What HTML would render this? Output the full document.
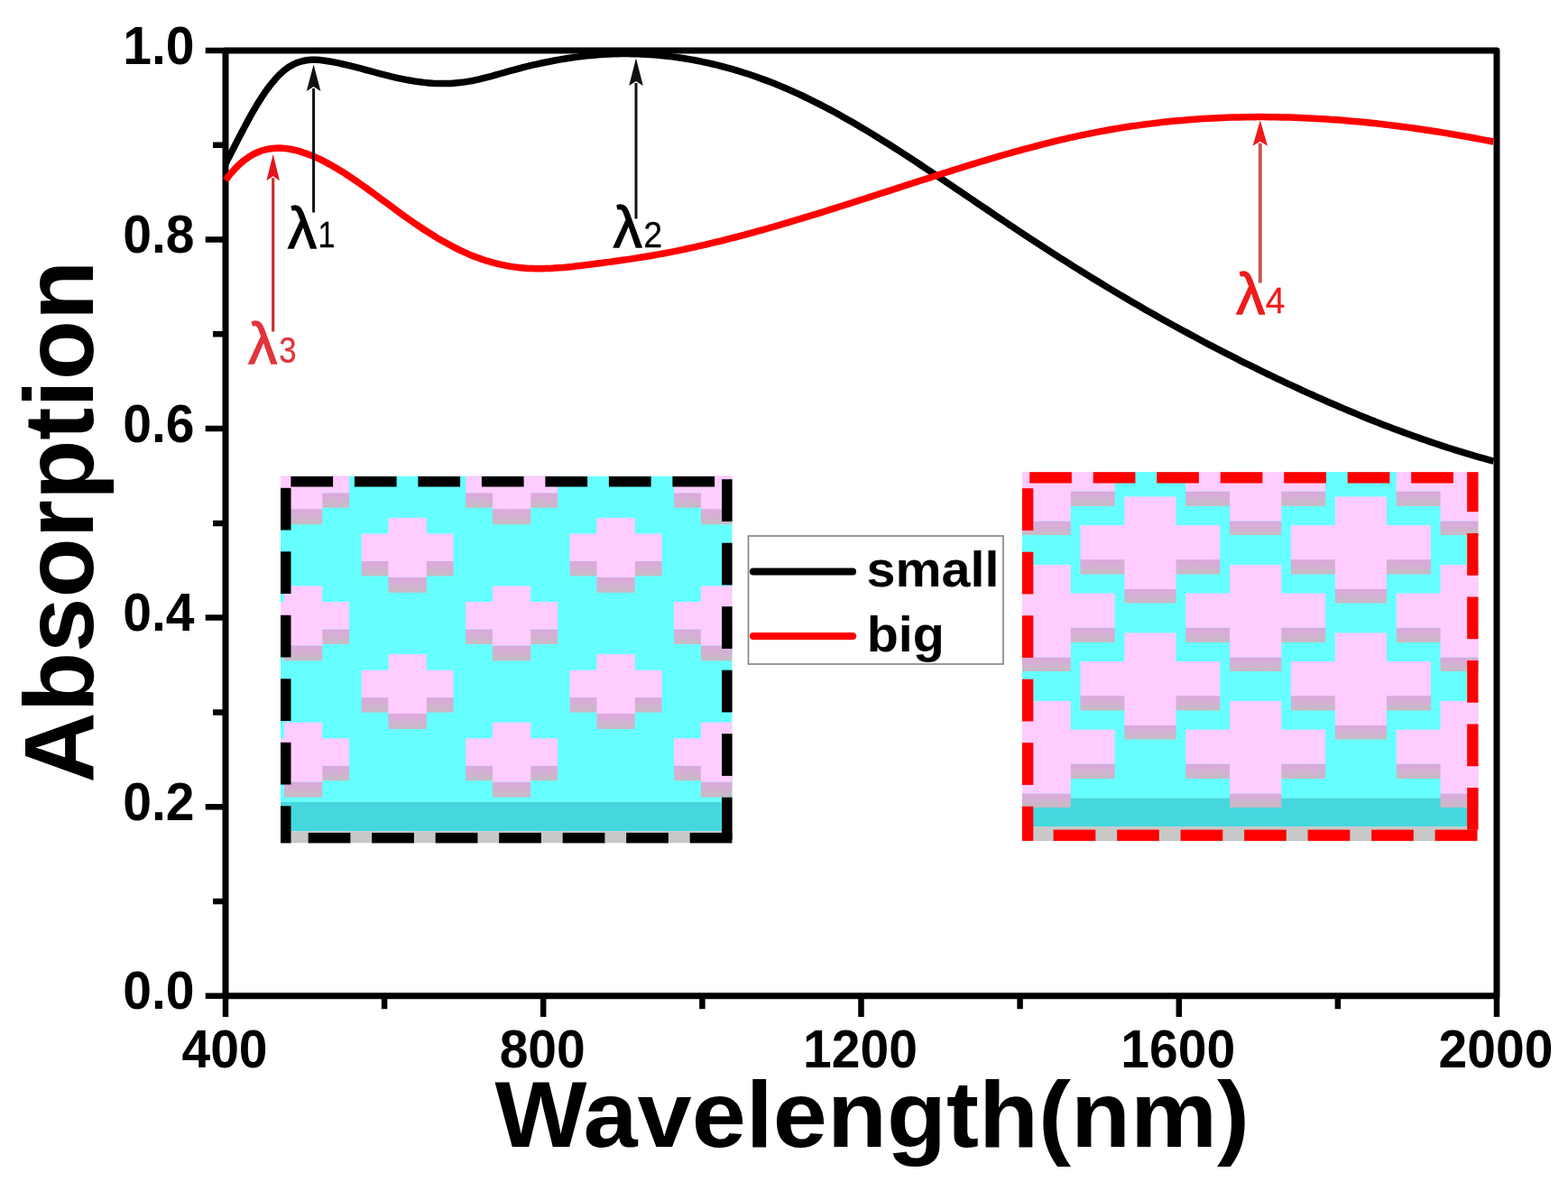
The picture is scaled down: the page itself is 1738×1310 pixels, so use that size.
<!DOCTYPE html>
<html><head><meta charset="utf-8"><title>Absorption vs Wavelength</title>
<style>html,body{margin:0;padding:0;background:#fff;}body{width:1738px;height:1310px;overflow:hidden;}svg{display:block;}text{font-family:"Liberation Sans", Arial, sans-serif;}</style>
</head><body>
<svg width="1738" height="1310" viewBox="0 0 1738 1310">
<rect width="1738" height="1310" fill="#fff"/>
<defs>
<linearGradient id="sh" x1="0" y1="0" x2="0" y2="1"><stop offset="0" stop-color="#dea6dc"/><stop offset="0.35" stop-color="#d6aed6"/><stop offset="1" stop-color="#c6bcc4"/></linearGradient>
<clipPath id="c1"><rect x="311" y="527.5" width="500.5" height="407"/></clipPath>
<clipPath id="c2"><rect x="1133" y="523" width="505.5" height="409"/></clipPath>
</defs>
<g clip-path="url(#c1)">
<rect x="311.0" y="527.5" width="500.5" height="361.3" fill="#66ffff"/>
<rect x="311.0" y="888.8" width="500.5" height="32.4" fill="#46d7de"/>
<rect x="311.0" y="921.2" width="500.5" height="13.3" fill="#c8c8c8"/>
<rect x="54.1" y="546.3" width="102.0" height="16.5" fill="url(#sh)"/>
<rect x="83.9" y="564.2" width="42.4" height="17.0" fill="url(#sh)"/>
<rect x="54.1" y="515.9" width="102.0" height="30.4" fill="#ffccff"/>
<rect x="83.9" y="498.2" width="42.4" height="66.0" fill="#ffccff"/>
<rect x="285.1" y="546.3" width="102.0" height="16.5" fill="url(#sh)"/>
<rect x="314.9" y="564.2" width="42.4" height="17.0" fill="url(#sh)"/>
<rect x="285.1" y="515.9" width="102.0" height="30.4" fill="#ffccff"/>
<rect x="314.9" y="498.2" width="42.4" height="66.0" fill="#ffccff"/>
<rect x="516.1" y="546.3" width="102.0" height="16.5" fill="url(#sh)"/>
<rect x="545.9" y="564.2" width="42.4" height="17.0" fill="url(#sh)"/>
<rect x="516.1" y="515.9" width="102.0" height="30.4" fill="#ffccff"/>
<rect x="545.9" y="498.2" width="42.4" height="66.0" fill="#ffccff"/>
<rect x="747.1" y="546.3" width="102.0" height="16.5" fill="url(#sh)"/>
<rect x="776.9" y="564.2" width="42.4" height="17.0" fill="url(#sh)"/>
<rect x="747.1" y="515.9" width="102.0" height="30.4" fill="#ffccff"/>
<rect x="776.9" y="498.2" width="42.4" height="66.0" fill="#ffccff"/>
<rect x="978.1" y="546.3" width="102.0" height="16.5" fill="url(#sh)"/>
<rect x="1007.9" y="564.2" width="42.4" height="17.0" fill="url(#sh)"/>
<rect x="978.1" y="515.9" width="102.0" height="30.4" fill="#ffccff"/>
<rect x="1007.9" y="498.2" width="42.4" height="66.0" fill="#ffccff"/>
<rect x="169.6" y="621.9" width="102.0" height="16.5" fill="url(#sh)"/>
<rect x="199.4" y="639.8" width="42.4" height="17.0" fill="url(#sh)"/>
<rect x="169.6" y="591.5" width="102.0" height="30.4" fill="#ffccff"/>
<rect x="199.4" y="573.8" width="42.4" height="66.0" fill="#ffccff"/>
<rect x="400.6" y="621.9" width="102.0" height="16.5" fill="url(#sh)"/>
<rect x="430.4" y="639.8" width="42.4" height="17.0" fill="url(#sh)"/>
<rect x="400.6" y="591.5" width="102.0" height="30.4" fill="#ffccff"/>
<rect x="430.4" y="573.8" width="42.4" height="66.0" fill="#ffccff"/>
<rect x="631.6" y="621.9" width="102.0" height="16.5" fill="url(#sh)"/>
<rect x="661.4" y="639.8" width="42.4" height="17.0" fill="url(#sh)"/>
<rect x="631.6" y="591.5" width="102.0" height="30.4" fill="#ffccff"/>
<rect x="661.4" y="573.8" width="42.4" height="66.0" fill="#ffccff"/>
<rect x="862.6" y="621.9" width="102.0" height="16.5" fill="url(#sh)"/>
<rect x="892.4" y="639.8" width="42.4" height="17.0" fill="url(#sh)"/>
<rect x="862.6" y="591.5" width="102.0" height="30.4" fill="#ffccff"/>
<rect x="892.4" y="573.8" width="42.4" height="66.0" fill="#ffccff"/>
<rect x="1093.6" y="621.9" width="102.0" height="16.5" fill="url(#sh)"/>
<rect x="1123.4" y="639.8" width="42.4" height="17.0" fill="url(#sh)"/>
<rect x="1093.6" y="591.5" width="102.0" height="30.4" fill="#ffccff"/>
<rect x="1123.4" y="573.8" width="42.4" height="66.0" fill="#ffccff"/>
<rect x="54.1" y="697.5" width="102.0" height="16.5" fill="url(#sh)"/>
<rect x="83.9" y="715.4" width="42.4" height="17.0" fill="url(#sh)"/>
<rect x="54.1" y="667.1" width="102.0" height="30.4" fill="#ffccff"/>
<rect x="83.9" y="649.4" width="42.4" height="66.0" fill="#ffccff"/>
<rect x="285.1" y="697.5" width="102.0" height="16.5" fill="url(#sh)"/>
<rect x="314.9" y="715.4" width="42.4" height="17.0" fill="url(#sh)"/>
<rect x="285.1" y="667.1" width="102.0" height="30.4" fill="#ffccff"/>
<rect x="314.9" y="649.4" width="42.4" height="66.0" fill="#ffccff"/>
<rect x="516.1" y="697.5" width="102.0" height="16.5" fill="url(#sh)"/>
<rect x="545.9" y="715.4" width="42.4" height="17.0" fill="url(#sh)"/>
<rect x="516.1" y="667.1" width="102.0" height="30.4" fill="#ffccff"/>
<rect x="545.9" y="649.4" width="42.4" height="66.0" fill="#ffccff"/>
<rect x="747.1" y="697.5" width="102.0" height="16.5" fill="url(#sh)"/>
<rect x="776.9" y="715.4" width="42.4" height="17.0" fill="url(#sh)"/>
<rect x="747.1" y="667.1" width="102.0" height="30.4" fill="#ffccff"/>
<rect x="776.9" y="649.4" width="42.4" height="66.0" fill="#ffccff"/>
<rect x="978.1" y="697.5" width="102.0" height="16.5" fill="url(#sh)"/>
<rect x="1007.9" y="715.4" width="42.4" height="17.0" fill="url(#sh)"/>
<rect x="978.1" y="667.1" width="102.0" height="30.4" fill="#ffccff"/>
<rect x="1007.9" y="649.4" width="42.4" height="66.0" fill="#ffccff"/>
<rect x="169.6" y="773.1" width="102.0" height="16.5" fill="url(#sh)"/>
<rect x="199.4" y="791.0" width="42.4" height="17.0" fill="url(#sh)"/>
<rect x="169.6" y="742.7" width="102.0" height="30.4" fill="#ffccff"/>
<rect x="199.4" y="725.0" width="42.4" height="66.0" fill="#ffccff"/>
<rect x="400.6" y="773.1" width="102.0" height="16.5" fill="url(#sh)"/>
<rect x="430.4" y="791.0" width="42.4" height="17.0" fill="url(#sh)"/>
<rect x="400.6" y="742.7" width="102.0" height="30.4" fill="#ffccff"/>
<rect x="430.4" y="725.0" width="42.4" height="66.0" fill="#ffccff"/>
<rect x="631.6" y="773.1" width="102.0" height="16.5" fill="url(#sh)"/>
<rect x="661.4" y="791.0" width="42.4" height="17.0" fill="url(#sh)"/>
<rect x="631.6" y="742.7" width="102.0" height="30.4" fill="#ffccff"/>
<rect x="661.4" y="725.0" width="42.4" height="66.0" fill="#ffccff"/>
<rect x="862.6" y="773.1" width="102.0" height="16.5" fill="url(#sh)"/>
<rect x="892.4" y="791.0" width="42.4" height="17.0" fill="url(#sh)"/>
<rect x="862.6" y="742.7" width="102.0" height="30.4" fill="#ffccff"/>
<rect x="892.4" y="725.0" width="42.4" height="66.0" fill="#ffccff"/>
<rect x="1093.6" y="773.1" width="102.0" height="16.5" fill="url(#sh)"/>
<rect x="1123.4" y="791.0" width="42.4" height="17.0" fill="url(#sh)"/>
<rect x="1093.6" y="742.7" width="102.0" height="30.4" fill="#ffccff"/>
<rect x="1123.4" y="725.0" width="42.4" height="66.0" fill="#ffccff"/>
<rect x="54.1" y="848.7" width="102.0" height="16.5" fill="url(#sh)"/>
<rect x="83.9" y="866.6" width="42.4" height="17.0" fill="url(#sh)"/>
<rect x="54.1" y="818.3" width="102.0" height="30.4" fill="#ffccff"/>
<rect x="83.9" y="800.6" width="42.4" height="66.0" fill="#ffccff"/>
<rect x="285.1" y="848.7" width="102.0" height="16.5" fill="url(#sh)"/>
<rect x="314.9" y="866.6" width="42.4" height="17.0" fill="url(#sh)"/>
<rect x="285.1" y="818.3" width="102.0" height="30.4" fill="#ffccff"/>
<rect x="314.9" y="800.6" width="42.4" height="66.0" fill="#ffccff"/>
<rect x="516.1" y="848.7" width="102.0" height="16.5" fill="url(#sh)"/>
<rect x="545.9" y="866.6" width="42.4" height="17.0" fill="url(#sh)"/>
<rect x="516.1" y="818.3" width="102.0" height="30.4" fill="#ffccff"/>
<rect x="545.9" y="800.6" width="42.4" height="66.0" fill="#ffccff"/>
<rect x="747.1" y="848.7" width="102.0" height="16.5" fill="url(#sh)"/>
<rect x="776.9" y="866.6" width="42.4" height="17.0" fill="url(#sh)"/>
<rect x="747.1" y="818.3" width="102.0" height="30.4" fill="#ffccff"/>
<rect x="776.9" y="800.6" width="42.4" height="66.0" fill="#ffccff"/>
<rect x="978.1" y="848.7" width="102.0" height="16.5" fill="url(#sh)"/>
<rect x="1007.9" y="866.6" width="42.4" height="17.0" fill="url(#sh)"/>
<rect x="978.1" y="818.3" width="102.0" height="30.4" fill="#ffccff"/>
<rect x="1007.9" y="800.6" width="42.4" height="66.0" fill="#ffccff"/>
</g>
<rect x="322.4" y="528.0" width="46.7" height="11.5" fill="#000"/>
<rect x="392.9" y="528.0" width="46.7" height="11.5" fill="#000"/>
<rect x="463.4" y="528.0" width="46.7" height="11.5" fill="#000"/>
<rect x="533.9" y="528.0" width="46.7" height="11.5" fill="#000"/>
<rect x="604.4" y="528.0" width="46.7" height="11.5" fill="#000"/>
<rect x="674.9" y="528.0" width="46.7" height="11.5" fill="#000"/>
<rect x="745.4" y="528.0" width="46.7" height="11.5" fill="#000"/>
<rect x="800.1" y="531.2" width="11.5" height="46.7" fill="#000"/>
<rect x="800.1" y="601.7" width="11.5" height="46.7" fill="#000"/>
<rect x="800.1" y="672.2" width="11.5" height="46.7" fill="#000"/>
<rect x="800.1" y="742.7" width="11.5" height="46.7" fill="#000"/>
<rect x="800.1" y="813.2" width="11.5" height="46.7" fill="#000"/>
<rect x="800.1" y="883.7" width="11.5" height="46.7" fill="#000"/>
<rect x="341.7" y="922.9" width="46.7" height="11.5" fill="#000"/>
<rect x="412.2" y="922.9" width="46.7" height="11.5" fill="#000"/>
<rect x="482.7" y="922.9" width="46.7" height="11.5" fill="#000"/>
<rect x="553.2" y="922.9" width="46.7" height="11.5" fill="#000"/>
<rect x="623.7" y="922.9" width="46.7" height="11.5" fill="#000"/>
<rect x="694.2" y="922.9" width="46.7" height="11.5" fill="#000"/>
<rect x="764.7" y="922.9" width="46.7" height="11.5" fill="#000"/>
<rect x="311.0" y="540.8" width="11.5" height="46.7" fill="#000"/>
<rect x="311.0" y="611.3" width="11.5" height="46.7" fill="#000"/>
<rect x="311.0" y="681.8" width="11.5" height="46.7" fill="#000"/>
<rect x="311.0" y="752.3" width="11.5" height="46.7" fill="#000"/>
<rect x="311.0" y="822.8" width="11.5" height="46.7" fill="#000"/>
<rect x="311.0" y="893.3" width="11.5" height="41.1" fill="#000"/>
<g clip-path="url(#c2)">
<rect x="1133.0" y="523.0" width="505.5" height="361.4" fill="#66ffff"/>
<rect x="1133.0" y="884.4" width="505.5" height="31.7" fill="#46d7de"/>
<rect x="1133.0" y="916.1" width="505.5" height="15.9" fill="#c8c8c8"/>
<rect x="847.2" y="544.6" width="155.0" height="16.4" fill="url(#sh)"/>
<rect x="896.1" y="577.5" width="57.2" height="15.5" fill="url(#sh)"/>
<rect x="847.2" y="506.6" width="155.0" height="38.0" fill="#ffccff"/>
<rect x="896.1" y="474.9" width="57.2" height="102.6" fill="#ffccff"/>
<rect x="1080.7" y="544.6" width="155.0" height="16.4" fill="url(#sh)"/>
<rect x="1129.6" y="577.5" width="57.2" height="15.5" fill="url(#sh)"/>
<rect x="1080.7" y="506.6" width="155.0" height="38.0" fill="#ffccff"/>
<rect x="1129.6" y="474.9" width="57.2" height="102.6" fill="#ffccff"/>
<rect x="1314.2" y="544.6" width="155.0" height="16.4" fill="url(#sh)"/>
<rect x="1363.1" y="577.5" width="57.2" height="15.5" fill="url(#sh)"/>
<rect x="1314.2" y="506.6" width="155.0" height="38.0" fill="#ffccff"/>
<rect x="1363.1" y="474.9" width="57.2" height="102.6" fill="#ffccff"/>
<rect x="1547.7" y="544.6" width="155.0" height="16.4" fill="url(#sh)"/>
<rect x="1596.6" y="577.5" width="57.2" height="15.5" fill="url(#sh)"/>
<rect x="1547.7" y="506.6" width="155.0" height="38.0" fill="#ffccff"/>
<rect x="1596.6" y="474.9" width="57.2" height="102.6" fill="#ffccff"/>
<rect x="1781.2" y="544.6" width="155.0" height="16.4" fill="url(#sh)"/>
<rect x="1830.1" y="577.5" width="57.2" height="15.5" fill="url(#sh)"/>
<rect x="1781.2" y="506.6" width="155.0" height="38.0" fill="#ffccff"/>
<rect x="1830.1" y="474.9" width="57.2" height="102.6" fill="#ffccff"/>
<rect x="963.9" y="620.1" width="155.0" height="16.4" fill="url(#sh)"/>
<rect x="1012.8" y="653.0" width="57.2" height="15.5" fill="url(#sh)"/>
<rect x="963.9" y="582.1" width="155.0" height="38.0" fill="#ffccff"/>
<rect x="1012.8" y="550.4" width="57.2" height="102.6" fill="#ffccff"/>
<rect x="1197.4" y="620.1" width="155.0" height="16.4" fill="url(#sh)"/>
<rect x="1246.3" y="653.0" width="57.2" height="15.5" fill="url(#sh)"/>
<rect x="1197.4" y="582.1" width="155.0" height="38.0" fill="#ffccff"/>
<rect x="1246.3" y="550.4" width="57.2" height="102.6" fill="#ffccff"/>
<rect x="1430.9" y="620.1" width="155.0" height="16.4" fill="url(#sh)"/>
<rect x="1479.8" y="653.0" width="57.2" height="15.5" fill="url(#sh)"/>
<rect x="1430.9" y="582.1" width="155.0" height="38.0" fill="#ffccff"/>
<rect x="1479.8" y="550.4" width="57.2" height="102.6" fill="#ffccff"/>
<rect x="1664.4" y="620.1" width="155.0" height="16.4" fill="url(#sh)"/>
<rect x="1713.3" y="653.0" width="57.2" height="15.5" fill="url(#sh)"/>
<rect x="1664.4" y="582.1" width="155.0" height="38.0" fill="#ffccff"/>
<rect x="1713.3" y="550.4" width="57.2" height="102.6" fill="#ffccff"/>
<rect x="1897.9" y="620.1" width="155.0" height="16.4" fill="url(#sh)"/>
<rect x="1946.8" y="653.0" width="57.2" height="15.5" fill="url(#sh)"/>
<rect x="1897.9" y="582.1" width="155.0" height="38.0" fill="#ffccff"/>
<rect x="1946.8" y="550.4" width="57.2" height="102.6" fill="#ffccff"/>
<rect x="847.2" y="695.6" width="155.0" height="16.4" fill="url(#sh)"/>
<rect x="896.1" y="728.5" width="57.2" height="15.5" fill="url(#sh)"/>
<rect x="847.2" y="657.6" width="155.0" height="38.0" fill="#ffccff"/>
<rect x="896.1" y="625.9" width="57.2" height="102.6" fill="#ffccff"/>
<rect x="1080.7" y="695.6" width="155.0" height="16.4" fill="url(#sh)"/>
<rect x="1129.6" y="728.5" width="57.2" height="15.5" fill="url(#sh)"/>
<rect x="1080.7" y="657.6" width="155.0" height="38.0" fill="#ffccff"/>
<rect x="1129.6" y="625.9" width="57.2" height="102.6" fill="#ffccff"/>
<rect x="1314.2" y="695.6" width="155.0" height="16.4" fill="url(#sh)"/>
<rect x="1363.1" y="728.5" width="57.2" height="15.5" fill="url(#sh)"/>
<rect x="1314.2" y="657.6" width="155.0" height="38.0" fill="#ffccff"/>
<rect x="1363.1" y="625.9" width="57.2" height="102.6" fill="#ffccff"/>
<rect x="1547.7" y="695.6" width="155.0" height="16.4" fill="url(#sh)"/>
<rect x="1596.6" y="728.5" width="57.2" height="15.5" fill="url(#sh)"/>
<rect x="1547.7" y="657.6" width="155.0" height="38.0" fill="#ffccff"/>
<rect x="1596.6" y="625.9" width="57.2" height="102.6" fill="#ffccff"/>
<rect x="1781.2" y="695.6" width="155.0" height="16.4" fill="url(#sh)"/>
<rect x="1830.1" y="728.5" width="57.2" height="15.5" fill="url(#sh)"/>
<rect x="1781.2" y="657.6" width="155.0" height="38.0" fill="#ffccff"/>
<rect x="1830.1" y="625.9" width="57.2" height="102.6" fill="#ffccff"/>
<rect x="963.9" y="771.1" width="155.0" height="16.4" fill="url(#sh)"/>
<rect x="1012.8" y="804.0" width="57.2" height="15.5" fill="url(#sh)"/>
<rect x="963.9" y="733.1" width="155.0" height="38.0" fill="#ffccff"/>
<rect x="1012.8" y="701.4" width="57.2" height="102.6" fill="#ffccff"/>
<rect x="1197.4" y="771.1" width="155.0" height="16.4" fill="url(#sh)"/>
<rect x="1246.3" y="804.0" width="57.2" height="15.5" fill="url(#sh)"/>
<rect x="1197.4" y="733.1" width="155.0" height="38.0" fill="#ffccff"/>
<rect x="1246.3" y="701.4" width="57.2" height="102.6" fill="#ffccff"/>
<rect x="1430.9" y="771.1" width="155.0" height="16.4" fill="url(#sh)"/>
<rect x="1479.8" y="804.0" width="57.2" height="15.5" fill="url(#sh)"/>
<rect x="1430.9" y="733.1" width="155.0" height="38.0" fill="#ffccff"/>
<rect x="1479.8" y="701.4" width="57.2" height="102.6" fill="#ffccff"/>
<rect x="1664.4" y="771.1" width="155.0" height="16.4" fill="url(#sh)"/>
<rect x="1713.3" y="804.0" width="57.2" height="15.5" fill="url(#sh)"/>
<rect x="1664.4" y="733.1" width="155.0" height="38.0" fill="#ffccff"/>
<rect x="1713.3" y="701.4" width="57.2" height="102.6" fill="#ffccff"/>
<rect x="1897.9" y="771.1" width="155.0" height="16.4" fill="url(#sh)"/>
<rect x="1946.8" y="804.0" width="57.2" height="15.5" fill="url(#sh)"/>
<rect x="1897.9" y="733.1" width="155.0" height="38.0" fill="#ffccff"/>
<rect x="1946.8" y="701.4" width="57.2" height="102.6" fill="#ffccff"/>
<rect x="847.2" y="846.6" width="155.0" height="16.4" fill="url(#sh)"/>
<rect x="896.1" y="879.5" width="57.2" height="15.5" fill="url(#sh)"/>
<rect x="847.2" y="808.6" width="155.0" height="38.0" fill="#ffccff"/>
<rect x="896.1" y="776.9" width="57.2" height="102.6" fill="#ffccff"/>
<rect x="1080.7" y="846.6" width="155.0" height="16.4" fill="url(#sh)"/>
<rect x="1129.6" y="879.5" width="57.2" height="15.5" fill="url(#sh)"/>
<rect x="1080.7" y="808.6" width="155.0" height="38.0" fill="#ffccff"/>
<rect x="1129.6" y="776.9" width="57.2" height="102.6" fill="#ffccff"/>
<rect x="1314.2" y="846.6" width="155.0" height="16.4" fill="url(#sh)"/>
<rect x="1363.1" y="879.5" width="57.2" height="15.5" fill="url(#sh)"/>
<rect x="1314.2" y="808.6" width="155.0" height="38.0" fill="#ffccff"/>
<rect x="1363.1" y="776.9" width="57.2" height="102.6" fill="#ffccff"/>
<rect x="1547.7" y="846.6" width="155.0" height="16.4" fill="url(#sh)"/>
<rect x="1596.6" y="879.5" width="57.2" height="15.5" fill="url(#sh)"/>
<rect x="1547.7" y="808.6" width="155.0" height="38.0" fill="#ffccff"/>
<rect x="1596.6" y="776.9" width="57.2" height="102.6" fill="#ffccff"/>
<rect x="1781.2" y="846.6" width="155.0" height="16.4" fill="url(#sh)"/>
<rect x="1830.1" y="879.5" width="57.2" height="15.5" fill="url(#sh)"/>
<rect x="1781.2" y="808.6" width="155.0" height="38.0" fill="#ffccff"/>
<rect x="1830.1" y="776.9" width="57.2" height="102.6" fill="#ffccff"/>
</g>
<rect x="1141.2" y="523.2" width="46.7" height="12.3" fill="#ff0000"/>
<rect x="1211.7" y="523.2" width="46.7" height="12.3" fill="#ff0000"/>
<rect x="1282.2" y="523.2" width="46.7" height="12.3" fill="#ff0000"/>
<rect x="1352.7" y="523.2" width="46.7" height="12.3" fill="#ff0000"/>
<rect x="1423.2" y="523.2" width="46.7" height="12.3" fill="#ff0000"/>
<rect x="1493.7" y="523.2" width="46.7" height="12.3" fill="#ff0000"/>
<rect x="1564.2" y="523.2" width="46.7" height="12.3" fill="#ff0000"/>
<rect x="1626.2" y="523.2" width="12.3" height="44.0" fill="#ff0000"/>
<rect x="1626.2" y="591.0" width="12.3" height="46.7" fill="#ff0000"/>
<rect x="1626.2" y="661.5" width="12.3" height="46.7" fill="#ff0000"/>
<rect x="1626.2" y="732.0" width="12.3" height="46.7" fill="#ff0000"/>
<rect x="1626.2" y="802.5" width="12.3" height="46.7" fill="#ff0000"/>
<rect x="1626.2" y="873.0" width="12.3" height="46.7" fill="#ff0000"/>
<rect x="1167.6" y="919.6" width="46.7" height="12.3" fill="#ff0000"/>
<rect x="1238.1" y="919.6" width="46.7" height="12.3" fill="#ff0000"/>
<rect x="1308.6" y="919.6" width="46.7" height="12.3" fill="#ff0000"/>
<rect x="1379.1" y="919.6" width="46.7" height="12.3" fill="#ff0000"/>
<rect x="1449.6" y="919.6" width="46.7" height="12.3" fill="#ff0000"/>
<rect x="1520.1" y="919.6" width="46.7" height="12.3" fill="#ff0000"/>
<rect x="1590.6" y="919.6" width="46.7" height="12.3" fill="#ff0000"/>
<rect x="1133.0" y="541.2" width="12.3" height="46.7" fill="#ff0000"/>
<rect x="1133.0" y="611.7" width="12.3" height="46.7" fill="#ff0000"/>
<rect x="1133.0" y="682.2" width="12.3" height="46.7" fill="#ff0000"/>
<rect x="1133.0" y="752.7" width="12.3" height="46.7" fill="#ff0000"/>
<rect x="1133.0" y="823.2" width="12.3" height="46.7" fill="#ff0000"/>
<rect x="1133.0" y="893.7" width="12.3" height="38.2" fill="#ff0000"/>
<rect x="829.5" y="594" width="282.5" height="142" fill="#fff" stroke="#808080" stroke-width="1.6"/>
<line x1="835" y1="633.5" x2="945" y2="633.5" stroke="#000" stroke-width="8.2" stroke-linecap="round"/>
<line x1="835" y1="705" x2="945" y2="705" stroke="#ff0000" stroke-width="8.2" stroke-linecap="round"/>
<text transform="translate(960.5,650.2) scale(1.0306,1)" font-size="55.8" font-weight="bold">small</text>
<text transform="translate(960.7,721.8) scale(1.0306,1)" font-size="55.8" font-weight="bold">big</text>
<rect x="250.0" y="56.0" width="1409.0" height="1047.8" fill="none" stroke="#000" stroke-width="7" stroke-linejoin="round"/>
<path d="M250.0,1103.8H227.7M250.0,894.2H227.7M250.0,684.6H227.7M250.0,475.1H227.7M250.0,265.5H227.7M250.0,56.0H227.7M250.0,999.0H236.0M250.0,789.4H236.0M250.0,579.9H236.0M250.0,370.3H236.0M250.0,160.8H236.0M250.0,1103.8V1127.0M602.2,1103.8V1127.0M954.5,1103.8V1127.0M1306.8,1103.8V1127.0M1659.0,1103.8V1127.0M426.1,1103.8V1118.2M778.4,1103.8V1118.2M1130.6,1103.8V1118.2M1482.9,1103.8V1118.2" stroke="#000" stroke-width="6.5" stroke-linecap="butt" fill="none"/>
<path d="M250.0,181.4 L255.0,171.8 L260.0,162.0 L265.0,152.3 L270.0,142.7 L275.0,133.4 L280.0,124.3 L285.0,115.8 L290.0,107.9 L295.0,100.5 L300.0,93.8 L305.0,87.8 L310.0,82.5 L315.0,78.0 L320.0,74.3 L325.0,71.4 L330.0,69.3 L335.0,67.7 L340.0,66.8 L345.0,66.3 L350.0,66.3 L355.0,66.6 L360.0,67.2 L365.0,68.0 L370.0,68.9 L375.0,69.9 L380.0,71.0 L385.0,72.1 L390.0,73.4 L395.0,74.6 L400.0,75.9 L405.0,77.3 L410.0,78.6 L415.0,80.0 L420.0,81.3 L425.0,82.6 L430.0,83.9 L435.0,85.2 L440.0,86.3 L445.0,87.4 L450.0,88.4 L455.0,89.3 L460.0,90.1 L465.0,90.8 L470.0,91.4 L475.0,91.9 L480.0,92.3 L485.0,92.5 L490.0,92.6 L495.0,92.5 L500.0,92.4 L505.0,92.0 L510.0,91.5 L515.0,90.9 L520.0,90.1 L525.0,89.2 L530.0,88.1 L535.0,86.9 L540.0,85.6 L545.0,84.3 L550.0,82.9 L555.0,81.5 L560.0,80.1 L565.0,78.7 L570.0,77.3 L575.0,76.0 L580.0,74.7 L585.0,73.4 L590.0,72.2 L595.0,71.1 L600.0,70.0 L605.0,69.0 L610.0,68.0 L615.0,67.0 L620.0,66.1 L625.0,65.3 L630.0,64.5 L635.0,63.8 L640.0,63.1 L645.0,62.5 L650.0,61.9 L655.0,61.4 L660.0,61.0 L665.0,60.6 L670.0,60.3 L675.0,60.0 L680.0,59.8 L685.0,59.7 L690.0,59.6 L695.0,59.6 L700.0,59.7 L705.0,59.8 L710.0,59.9 L715.0,60.2 L720.0,60.5 L725.0,60.8 L730.0,61.2 L735.0,61.7 L740.0,62.3 L745.0,62.9 L750.0,63.5 L755.0,64.2 L760.0,65.0 L765.0,65.9 L770.0,66.8 L775.0,67.7 L780.0,68.8 L785.0,69.8 L790.0,71.0 L795.0,72.2 L800.0,73.5 L805.0,74.8 L810.0,76.2 L815.0,77.6 L820.0,79.1 L825.0,80.7 L830.0,82.3 L835.0,84.0 L840.0,85.8 L845.0,87.6 L850.0,89.4 L855.0,91.3 L860.0,93.3 L865.0,95.4 L870.0,97.5 L875.0,99.6 L880.0,101.9 L885.0,104.1 L890.0,106.5 L895.0,108.9 L900.0,111.3 L905.0,113.8 L910.0,116.4 L915.0,119.0 L920.0,121.6 L925.0,124.3 L930.0,127.1 L935.0,129.9 L940.0,132.7 L945.0,135.6 L950.0,138.5 L955.0,141.4 L960.0,144.4 L965.0,147.4 L970.0,150.5 L975.0,153.6 L980.0,156.7 L985.0,159.8 L990.0,163.0 L995.0,166.2 L1000.0,169.4 L1005.0,172.6 L1010.0,175.9 L1015.0,179.2 L1020.0,182.5 L1025.0,185.8 L1030.0,189.1 L1035.0,192.5 L1040.0,195.8 L1045.0,199.2 L1050.0,202.6 L1055.0,205.9 L1060.0,209.3 L1065.0,212.7 L1070.0,216.1 L1075.0,219.5 L1080.0,222.9 L1085.0,226.3 L1090.0,229.7 L1095.0,233.0 L1100.0,236.4 L1105.0,239.8 L1110.0,243.1 L1115.0,246.5 L1120.0,249.8 L1125.0,253.1 L1130.0,256.5 L1135.0,259.8 L1140.0,263.1 L1145.0,266.3 L1150.0,269.6 L1155.0,272.9 L1160.0,276.1 L1165.0,279.3 L1170.0,282.6 L1175.0,285.8 L1180.0,288.9 L1185.0,292.1 L1190.0,295.3 L1195.0,298.4 L1200.0,301.5 L1205.0,304.6 L1210.0,307.7 L1215.0,310.8 L1220.0,313.8 L1225.0,316.9 L1230.0,319.9 L1235.0,322.9 L1240.0,325.9 L1245.0,328.8 L1250.0,331.8 L1255.0,334.7 L1260.0,337.6 L1265.0,340.5 L1270.0,343.4 L1275.0,346.2 L1280.0,349.1 L1285.0,351.9 L1290.0,354.7 L1295.0,357.5 L1300.0,360.2 L1305.0,363.0 L1310.0,365.7 L1315.0,368.4 L1320.0,371.1 L1325.0,373.8 L1330.0,376.5 L1335.0,379.2 L1340.0,381.8 L1345.0,384.4 L1350.0,387.0 L1355.0,389.6 L1360.0,392.2 L1365.0,394.7 L1370.0,397.2 L1375.0,399.8 L1380.0,402.3 L1385.0,404.7 L1390.0,407.2 L1395.0,409.7 L1400.0,412.1 L1405.0,414.5 L1410.0,416.9 L1415.0,419.3 L1420.0,421.7 L1425.0,424.1 L1430.0,426.4 L1435.0,428.7 L1440.0,431.0 L1445.0,433.3 L1450.0,435.6 L1455.0,437.8 L1460.0,440.1 L1465.0,442.3 L1470.0,444.5 L1475.0,446.7 L1480.0,448.8 L1485.0,451.0 L1490.0,453.1 L1495.0,455.2 L1500.0,457.3 L1505.0,459.4 L1510.0,461.4 L1515.0,463.5 L1520.0,465.5 L1525.0,467.4 L1530.0,469.4 L1535.0,471.4 L1540.0,473.3 L1545.0,475.2 L1550.0,477.1 L1555.0,478.9 L1560.0,480.7 L1565.0,482.6 L1570.0,484.3 L1575.0,486.1 L1580.0,487.8 L1585.0,489.6 L1590.0,491.3 L1595.0,492.9 L1600.0,494.6 L1605.0,496.2 L1610.0,497.8 L1615.0,499.4 L1620.0,500.9 L1625.0,502.4 L1630.0,503.9 L1635.0,505.4 L1640.0,506.8 L1645.0,508.2 L1650.0,509.6 L1655.0,511.0 L1655.5,511.1" fill="none" stroke="#000" stroke-width="7.5" stroke-linejoin="round"/>
<path d="M250.0,199.8 L255.0,193.3 L260.0,187.5 L265.0,182.5 L270.0,178.2 L275.0,174.5 L280.0,171.4 L285.0,169.0 L290.0,167.0 L295.0,165.6 L300.0,164.7 L305.0,164.2 L310.0,164.1 L315.0,164.4 L320.0,165.0 L325.0,166.0 L330.0,167.2 L335.0,168.7 L340.0,170.4 L345.0,172.3 L350.0,174.4 L355.0,176.7 L360.0,179.2 L365.0,181.9 L370.0,184.7 L375.0,187.7 L380.0,190.7 L385.0,194.0 L390.0,197.3 L395.0,200.7 L400.0,204.2 L405.0,207.8 L410.0,211.4 L415.0,215.0 L420.0,218.7 L425.0,222.4 L430.0,226.1 L435.0,229.8 L440.0,233.5 L445.0,237.2 L450.0,240.8 L455.0,244.3 L460.0,247.8 L465.0,251.2 L470.0,254.5 L475.0,257.7 L480.0,260.8 L485.0,263.9 L490.0,266.8 L495.0,269.6 L500.0,272.3 L505.0,274.9 L510.0,277.4 L515.0,279.7 L520.0,281.9 L525.0,283.9 L530.0,285.8 L535.0,287.6 L540.0,289.2 L545.0,290.6 L550.0,292.0 L555.0,293.1 L560.0,294.2 L565.0,295.1 L570.0,295.9 L575.0,296.5 L580.0,297.0 L585.0,297.4 L590.0,297.6 L595.0,297.7 L600.0,297.7 L605.0,297.6 L610.0,297.4 L615.0,297.1 L620.0,296.8 L625.0,296.4 L630.0,295.9 L635.0,295.4 L640.0,294.8 L645.0,294.2 L650.0,293.6 L655.0,293.0 L660.0,292.3 L665.0,291.7 L670.0,291.0 L675.0,290.4 L680.0,289.7 L685.0,289.0 L690.0,288.3 L695.0,287.6 L700.0,286.9 L705.0,286.1 L710.0,285.3 L715.0,284.5 L720.0,283.7 L725.0,282.8 L730.0,281.9 L735.0,281.0 L740.0,280.1 L745.0,279.1 L750.0,278.1 L755.0,277.1 L760.0,276.0 L765.0,274.9 L770.0,273.8 L775.0,272.7 L780.0,271.6 L785.0,270.4 L790.0,269.2 L795.0,268.0 L800.0,266.8 L805.0,265.5 L810.0,264.2 L815.0,263.0 L820.0,261.7 L825.0,260.3 L830.0,259.0 L835.0,257.6 L840.0,256.2 L845.0,254.9 L850.0,253.5 L855.0,252.0 L860.0,250.6 L865.0,249.1 L870.0,247.7 L875.0,246.2 L880.0,244.7 L885.0,243.2 L890.0,241.7 L895.0,240.2 L900.0,238.7 L905.0,237.1 L910.0,235.6 L915.0,234.0 L920.0,232.4 L925.0,230.9 L930.0,229.3 L935.0,227.7 L940.0,226.1 L945.0,224.5 L950.0,222.9 L955.0,221.3 L960.0,219.7 L965.0,218.1 L970.0,216.5 L975.0,214.8 L980.0,213.2 L985.0,211.6 L990.0,210.0 L995.0,208.4 L1000.0,206.7 L1005.0,205.1 L1010.0,203.5 L1015.0,201.9 L1020.0,200.3 L1025.0,198.7 L1030.0,197.1 L1035.0,195.5 L1040.0,193.9 L1045.0,192.3 L1050.0,190.7 L1055.0,189.1 L1060.0,187.5 L1065.0,186.0 L1070.0,184.4 L1075.0,182.9 L1080.0,181.4 L1085.0,179.8 L1090.0,178.3 L1095.0,176.8 L1100.0,175.4 L1105.0,173.9 L1110.0,172.4 L1115.0,171.0 L1120.0,169.6 L1125.0,168.2 L1130.0,166.8 L1135.0,165.4 L1140.0,164.1 L1145.0,162.8 L1150.0,161.5 L1155.0,160.2 L1160.0,158.9 L1165.0,157.7 L1170.0,156.4 L1175.0,155.2 L1180.0,154.1 L1185.0,152.9 L1190.0,151.8 L1195.0,150.7 L1200.0,149.6 L1205.0,148.6 L1210.0,147.6 L1215.0,146.6 L1220.0,145.6 L1225.0,144.7 L1230.0,143.8 L1235.0,143.0 L1240.0,142.1 L1245.0,141.3 L1250.0,140.5 L1255.0,139.8 L1260.0,139.1 L1265.0,138.4 L1270.0,137.7 L1275.0,137.1 L1280.0,136.5 L1285.0,135.9 L1290.0,135.3 L1295.0,134.8 L1300.0,134.3 L1305.0,133.8 L1310.0,133.4 L1315.0,132.9 L1320.0,132.5 L1325.0,132.2 L1330.0,131.8 L1335.0,131.5 L1340.0,131.2 L1345.0,131.0 L1350.0,130.7 L1355.0,130.5 L1360.0,130.3 L1365.0,130.1 L1370.0,130.0 L1375.0,129.9 L1380.0,129.8 L1385.0,129.7 L1390.0,129.7 L1395.0,129.6 L1400.0,129.6 L1405.0,129.7 L1410.0,129.7 L1415.0,129.8 L1420.0,129.9 L1425.0,130.0 L1430.0,130.1 L1435.0,130.3 L1440.0,130.5 L1445.0,130.7 L1450.0,130.9 L1455.0,131.2 L1460.0,131.4 L1465.0,131.7 L1470.0,132.0 L1475.0,132.4 L1480.0,132.7 L1485.0,133.1 L1490.0,133.5 L1495.0,133.9 L1500.0,134.4 L1505.0,134.8 L1510.0,135.3 L1515.0,135.8 L1520.0,136.3 L1525.0,136.8 L1530.0,137.4 L1535.0,138.0 L1540.0,138.6 L1545.0,139.2 L1550.0,139.8 L1555.0,140.5 L1560.0,141.1 L1565.0,141.8 L1570.0,142.5 L1575.0,143.2 L1580.0,144.0 L1585.0,144.7 L1590.0,145.5 L1595.0,146.3 L1600.0,147.1 L1605.0,147.9 L1610.0,148.7 L1615.0,149.6 L1620.0,150.5 L1625.0,151.4 L1630.0,152.3 L1635.0,153.2 L1640.0,154.1 L1645.0,155.1 L1650.0,156.0 L1655.0,157.0 L1655.5,157.1" fill="none" stroke="#ff0000" stroke-width="7.5" stroke-linejoin="round"/>
<line x1="347.6" y1="98.0" x2="347.6" y2="235.5" stroke="#111" stroke-width="3.0"/><path d="M347.6,71.6 L355.4,101.0 L347.6,96.0 L339.8,101.0 Z" fill="#111"/>
<line x1="705.0" y1="92.0" x2="705.0" y2="242.4" stroke="#111" stroke-width="3.0"/><path d="M705.0,64.5 L712.8,95.0 L705.0,90.0 L697.2,95.0 Z" fill="#111"/>
<line x1="302.7" y1="197.3" x2="302.7" y2="367.5" stroke="#c8302c" stroke-width="3.2"/><path d="M302.7,171.0 L310.0,200.3 L302.7,195.3 L295.4,200.3 Z" fill="#e3141e"/>
<line x1="1396.8" y1="158.8" x2="1396.8" y2="313.5" stroke="#c85a52" stroke-width="4.0"/><path d="M1396.8,133.2 L1405.0,161.8 L1396.8,156.8 L1388.6,161.8 Z" fill="#f01818"/>
<text x="319.0" y="274.8" font-size="64.0" fill="#000" stroke="#000" stroke-width="1.3">λ</text><text transform="translate(352.6,274.2) scale(0.850,1)" font-size="40.0" fill="#000" stroke="#000" stroke-width="0.3">1</text>
<text x="679.7" y="274.2" font-size="64.0" fill="#000" stroke="#000" stroke-width="1.3">λ</text><text transform="translate(713.2,273.6) scale(0.940,1)" font-size="40.0" fill="#000" stroke="#000" stroke-width="0.3">2</text>
<text x="275.3" y="402.9" font-size="64.0" fill="#e2343c" stroke="#e2343c" stroke-width="1.3">λ</text><text transform="translate(309.2,402.3) scale(0.870,1)" font-size="40.0" fill="#e2343c" stroke="#e2343c" stroke-width="0.3">3</text>
<text x="1370.2" y="347.8" font-size="64.0" fill="#ee1c1c" stroke="#ee1c1c" stroke-width="1.3">λ</text><text transform="translate(1402.7,347.2) scale(0.970,1)" font-size="40.0" fill="#ee1c1c" stroke="#ee1c1c" stroke-width="0.3">4</text>
<text transform="translate(215.6,1118.3) scale(0.975,1)" font-size="58.5" font-weight="bold" text-anchor="end">0.0</text>
<text transform="translate(215.6,908.8) scale(0.975,1)" font-size="58.5" font-weight="bold" text-anchor="end">0.2</text>
<text transform="translate(215.6,699.2) scale(0.975,1)" font-size="58.5" font-weight="bold" text-anchor="end">0.4</text>
<text transform="translate(215.6,489.7) scale(0.975,1)" font-size="58.5" font-weight="bold" text-anchor="end">0.6</text>
<text transform="translate(215.6,280.1) scale(0.975,1)" font-size="58.5" font-weight="bold" text-anchor="end">0.8</text>
<text transform="translate(215.6,70.6) scale(0.975,1)" font-size="58.5" font-weight="bold" text-anchor="end">1.0</text>
<text transform="translate(249.0,1182.6) scale(0.975,1)" font-size="58.5" font-weight="bold" text-anchor="middle">400</text>
<text transform="translate(601.2,1182.6) scale(0.975,1)" font-size="58.5" font-weight="bold" text-anchor="middle">800</text>
<text transform="translate(953.5,1182.6) scale(0.975,1)" font-size="58.5" font-weight="bold" text-anchor="middle">1200</text>
<text transform="translate(1305.8,1182.6) scale(0.975,1)" font-size="58.5" font-weight="bold" text-anchor="middle">1600</text>
<text transform="translate(1658.0,1182.6) scale(0.975,1)" font-size="58.5" font-weight="bold" text-anchor="middle">2000</text>
<text transform="translate(548.5,1270.5) scale(1.0442,1)" font-size="103.5" font-weight="bold">Wavelength(nm)</text>
<text transform="translate(103,867.8) rotate(-90) scale(0.9966,1)" font-size="109.0" font-weight="bold">Absorption</text>
</svg>
</body></html>
